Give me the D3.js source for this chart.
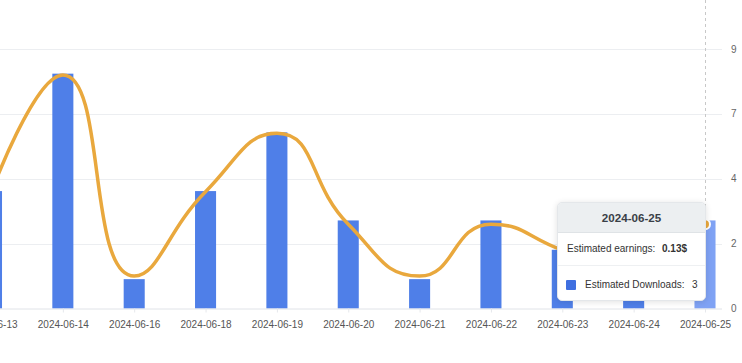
<!DOCTYPE html>
<html lang="en">
<head>
  <meta charset="UTF-8" />
  <title>Estimated downloads and earnings</title>
  <script src="https://d3js.org/d3.v7.min.js"></script>
  <style>
    body {
      margin: 0;
      font-family: "Liberation Sans", Arial, sans-serif;
      background: #fff;
    }
    #wrap { position: relative; width: 742px; height: 363px; overflow: hidden; }
    .tip {
      position: absolute;
      box-sizing: border-box;
      background: #fff;
      border: 1px solid #e4e7ea;
      border-radius: 5px;
      box-shadow: 0 1px 6px rgba(0,0,0,0.12);
      font-size: 10px;
      color: #333;
      overflow: hidden;
      white-space: nowrap;
    }
    .tip .head {
      background: #eceff1;
      text-align: center;
      font-weight: bold;
      font-size: 11.6px;
      color: #3a3f47;
      border-bottom: 1px solid #dfe3e6;
    }
    .tip .row { position: relative; border-bottom: 1px solid #eef0f2; }
    .tip .row:last-child { border-bottom: none; }
    .tip .row span { position: absolute; }
    .tip .sw { width: 10px; height: 10px; background: #3f6fe0; border-radius: 1px; }
  </style>
</head>
<body>
  <div id="wrap">
    <svg width="742" height="363" id="chart"></svg>
  </div>

  <script>
    const days = ["2024-06-13", "2024-06-14", "2024-06-16", "2024-06-18", "2024-06-19", "2024-06-20",
                  "2024-06-21", "2024-06-22", "2024-06-23", "2024-06-24", "2024-06-25"];
    const downloads = [4, 8, 1, 4, 6, 3, 1, 3, 2, 1, 3];
    const earnings = [0.18, 0.36, 0.05, 0.18, 0.27, 0.13, 0.05, 0.13, 0.09, 0.05, 0.13];
    const rightTicks = [0, 2.21, 4.42, 6.63, 8.84];
    const hovered = "2024-06-25";

    const svg = d3.select("#chart");
    const plotTop = 49, plotBottom = 308.5, gridRight = 722;

    const x = d3.scalePoint().domain(days).range([-8.5, 705]);
    const step = x.step();
    const barW = step * 0.295;

    const yDl = d3.scaleLinear().domain([0, 8.84]).range([plotBottom, plotTop]);
    const yEarn = d3.scaleLinear().domain([0, 0.4]).range([plotBottom, plotTop]);

    // smooth curve in the style of the original chart (control points clamped between neighbours)
    function clampedSmooth(smooth) {
      return function (context) {
        let pts = [];
        return {
          areaStart() {}, areaEnd() {},
          lineStart() { pts = []; },
          point(px, py) { pts.push([+px, +py]); },
          lineEnd() {
            const n = pts.length;
            if (!n) return;
            context.moveTo(pts[0][0], pts[0][1]);
            let cpx0 = pts[0][0], cpy0 = pts[0][1];
            for (let i = 1; i < n; i++) {
              const [xx, yy] = pts[i];
              const [prevX, prevY] = pts[i - 1];
              let cpx1, cpy1, nextCpx0 = xx, nextCpy0 = yy;
              if (i === n - 1) {
                cpx1 = xx; cpy1 = yy;
              } else {
                const [nextX, nextY] = pts[i + 1];
                let vx = nextX - prevX, vy = nextY - prevY;
                const lenPrev = Math.hypot(xx - prevX, yy - prevY);
                const lenNext = Math.hypot(nextX - xx, nextY - yy);
                const ratio = lenNext / (lenNext + lenPrev);
                nextCpx0 = xx + vx * smooth * ratio;
                nextCpy0 = yy + vy * smooth * ratio;
                nextCpx0 = Math.max(Math.min(nextCpx0, Math.max(nextX, xx)), Math.min(nextX, xx));
                nextCpy0 = Math.max(Math.min(nextCpy0, Math.max(nextY, yy)), Math.min(nextY, yy));
                vx = nextCpx0 - xx; vy = nextCpy0 - yy;
                cpx1 = xx - vx * lenPrev / lenNext;
                cpy1 = yy - vy * lenPrev / lenNext;
                cpx1 = Math.max(Math.min(cpx1, Math.max(prevX, xx)), Math.min(prevX, xx));
                cpy1 = Math.max(Math.min(cpy1, Math.max(prevY, yy)), Math.min(prevY, yy));
                vx = xx - cpx1; vy = yy - cpy1;
                nextCpx0 = xx + vx * lenNext / lenPrev;
                nextCpy0 = yy + vy * lenNext / lenPrev;
              }
              context.bezierCurveTo(cpx0, cpy0, cpx1, cpy1, xx, yy);
              cpx0 = nextCpx0; cpy0 = nextCpy0;
            }
          }
        };
      };
    }

    // grid lines
    svg.selectAll("line.grid")
      .data(rightTicks.slice(1))
      .enter()
      .append("line")
      .attr("x1", 0)
      .attr("x2", gridRight)
      .attr("y1", d => Math.round(yDl(d)) + 0.5)
      .attr("y2", d => Math.round(yDl(d)) + 0.5)
      .attr("stroke", "#eceef1");

    // right axis labels
    svg.selectAll("text.rt")
      .data(rightTicks)
      .enter()
      .append("text")
      .attr("x", 731)
      .attr("y", d => yDl(d) + 3.5)
      .attr("font-size", 10)
      .attr("fill", "#666")
      .text(d => d3.format(".0f")(d));

    // axis pointer
    svg.append("line")
      .attr("x1", x(hovered) + 0.5)
      .attr("x2", x(hovered) + 0.5)
      .attr("y1", 0)
      .attr("y2", plotBottom)
      .attr("stroke", "#c8c8c8")
      .attr("stroke-dasharray", "3,3");

    // bars
    svg.selectAll("rect.bar")
      .data(days)
      .enter()
      .append("rect")
      .attr("x", d => x(d) - barW / 2)
      .attr("y", (d, i) => yDl(downloads[i]))
      .attr("width", barW)
      .attr("height", (d, i) => plotBottom - yDl(downloads[i]))
      .attr("fill", d => d === hovered ? "#7fa2f4" : "#4f7fe8");

    // x axis
    const xAxis = d3.axisBottom(x).tickSize(4).tickPadding(8);
    const gx = svg.append("g").attr("transform", `translate(0,${plotBottom})`).call(xAxis);
    gx.select(".domain").remove();
    gx.selectAll(".tick line").attr("stroke", "#e6e8ec");
    gx.selectAll(".tick text")
      .attr("font-size", 10)
      .attr("font-family", "Liberation Sans, Arial, sans-serif")
      .attr("fill", "#555");
    svg.append("line")
      .attr("x1", 0).attr("x2", gridRight)
      .attr("y1", plotBottom + 0.5).attr("y2", plotBottom + 0.5)
      .attr("stroke", "#e0e3e8");

    // earnings line
    const line = d3.line()
      .x(d => x(d))
      .y((d, i) => yEarn(earnings[i]))
      .curve(clampedSmooth(0.5));
    svg.append("path")
      .datum(days)
      .attr("d", line)
      .attr("fill", "none")
      .attr("stroke", "#e9a83d")
      .attr("stroke-width", 3.5);

    const hi = days.indexOf(hovered);
    svg.append("circle")
      .attr("cx", x(hovered))
      .attr("cy", yEarn(earnings[hi]))
      .attr("r", 5)
      .attr("fill", "#e9a83d")
      .attr("stroke", "#fff")
      .attr("stroke-width", 2);

    // tooltip
    const tip = d3.select("#wrap").append("div").attr("class", "tip")
      .style("left", "557px").style("top", "202px")
      .style("width", "149px").style("height", "99px");
    tip.append("div").attr("class", "head")
      .style("height", "29px").style("line-height", "29px")
      .text(hovered);
    const r1 = tip.append("div").attr("class", "row").style("height", "32px");
    r1.append("span").style("left", "9px").style("top", "10px").text("Estimated earnings:");
    r1.append("span").style("left", "104px").style("top", "10px").style("font-weight", "bold")
      .text(`${earnings[hi]}$`);
    const r2 = tip.append("div").attr("class", "row").style("height", "35px");
    r2.append("span").attr("class", "sw").style("left", "8px").style("top", "14px");
    r2.append("span").style("left", "27px").style("top", "13px").text("Estimated Downloads:");
    r2.append("span").style("left", "134px").style("top", "13px").text(downloads[hi]);
  </script>
</body>
</html>
